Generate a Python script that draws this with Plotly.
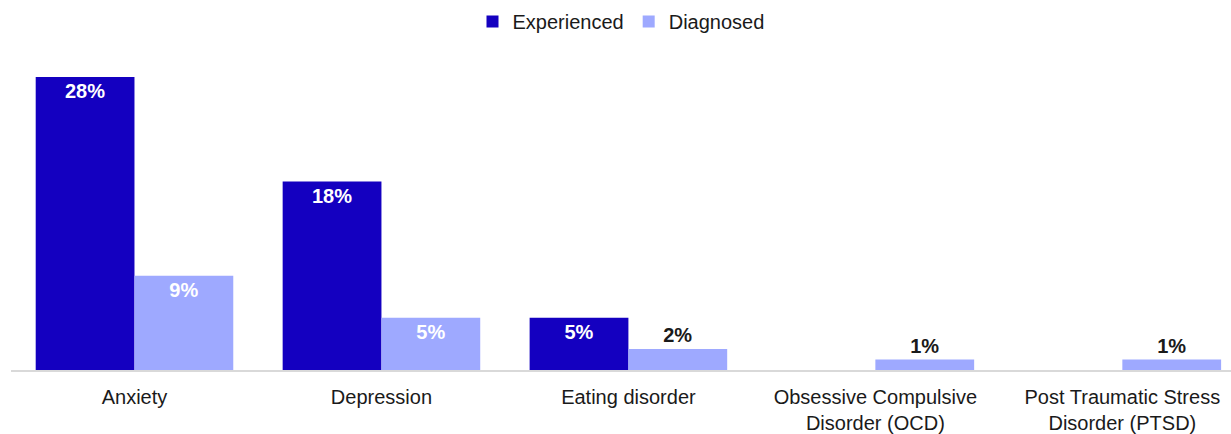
import plotly.graph_objects as go

categories = ["Anxiety", "Depression", "Eating disorder",
              "Obsessive Compulsive<br>Disorder (OCD)",
              "Post Traumatic Stress<br>Disorder (PTSD)"]
experienced = [28, 18, 5, 0, 0]
diagnosed = [9, 5, 2, 1, 1]

dark = "#1400C0"
light = "#9EA9FF"

def labels(vals):
    return [f"{v}%" if v > 0 else "" for v in vals]

# small bars get their label above, in black
def positions(vals):
    return ["inside" if v >= 4 else "outside" for v in vals]

def colours(vals):
    return ["white" if v >= 4 else "#1a1a1a" for v in vals]

fig = go.Figure()
fig.add_trace(go.Bar(
    x=categories, y=experienced, name="Experienced",
    marker_color=dark, text=labels(experienced),
    textposition=positions(experienced),
    textfont=dict(color=colours(experienced), size=20, family="Liberation Sans"),
    insidetextanchor="end", cliponaxis=False
))
fig.add_trace(go.Bar(
    x=categories, y=diagnosed, name="Diagnosed",
    marker_color=light, text=labels(diagnosed),
    textposition=positions(diagnosed),
    textfont=dict(color=colours(diagnosed), size=20, family="Liberation Sans"),
    insidetextanchor="end", cliponaxis=False
))

fig.update_traces(texttemplate="<b>%{text}</b>", marker_line_width=0)

fig.update_layout(
    width=1231, height=434,
    margin=dict(l=11, r=0, t=56, b=62),
    paper_bgcolor="white", plot_bgcolor="white",
    barmode="group", bargap=0.2, bargroupgap=0,
    uniformtext=dict(mode=False),
    font=dict(family="Liberation Sans", size=20, color="#1a1a1a"),
    legend=dict(orientation="h", x=0.5, xanchor="center", y=1.11, yanchor="middle",
                font=dict(size=20), itemwidth=30, traceorder="normal"),
    xaxis=dict(range=[-0.5, 4.44], showline=True, linecolor="#d9d9d9", linewidth=1.5,
               ticks="outside", ticklen=8, tickcolor="rgba(0,0,0,0)",
               tickfont=dict(size=20), showgrid=False),
    yaxis=dict(range=[0, 30], visible=False, showgrid=False),
)

fig.write_html("out.html", config={"displayModeBar": False},
               post_script="document.body.style.margin='0';")
